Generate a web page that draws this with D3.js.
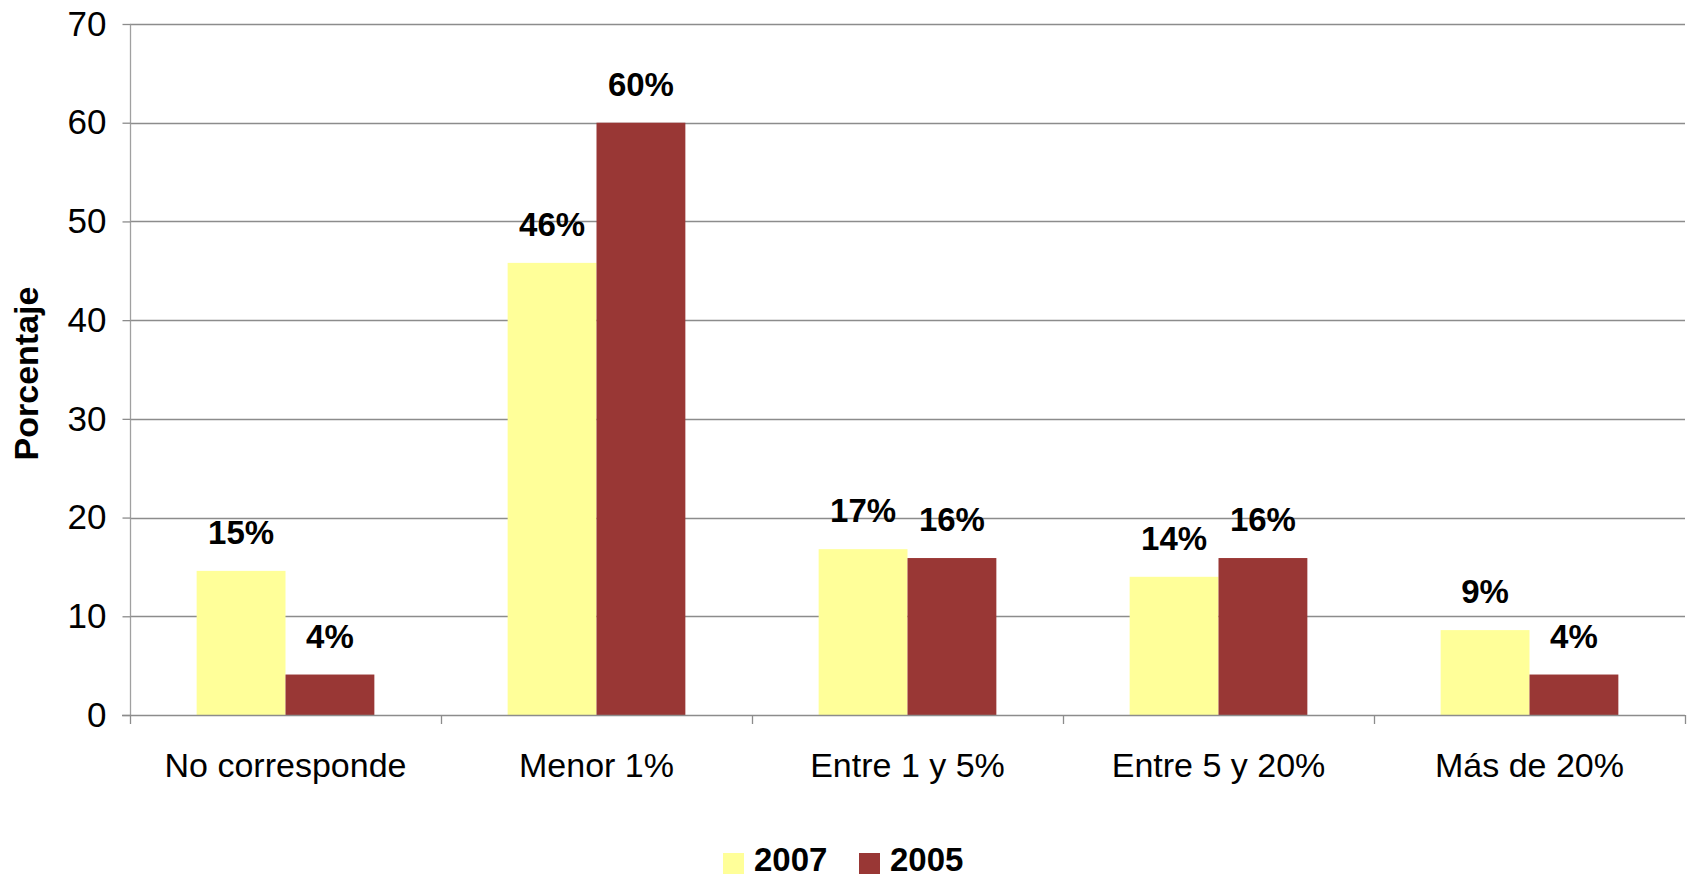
<!DOCTYPE html>
<html><head><meta charset="utf-8">
<script src="https://cdn.jsdelivr.net/npm/d3@7"></script>
<style>html,body{margin:0;padding:0;background:#fff;overflow:hidden}</style>
</head><body><svg id="c" width="1688" height="878"></svg>
<script>
const categories = ["No corresponde","Menor 1%","Entre 1 y 5%","Entre 5 y 20%","Más de 20%"];
const seriesNames = ["2007","2005"];
const values2007 = [14.6, 45.8, 16.8, 14.0, 8.6];
const values2005 = [4.1, 60.0, 15.9, 15.9, 4.1];
const yTicks = [0,10,20,30,40,50,60,70];
const colors = ["#FFFF99","#993735"];

const svg = d3.select("#c");
const font = "'Liberation Sans', Arial, sans-serif";
const L = 130, R = 1685, T = 24, B = 715;

const y = d3.scaleLinear().domain([0,70]).range([B,T]);
const x = d3.scaleBand().domain(categories).range([L,R]).padding(0);
const bw = x.bandwidth()/3.5;
const xs = d3.scaleBand().domain(seriesNames).range([0, 2*bw]);

// gridlines
svg.append("g").selectAll("line").data(yTicks.filter(d=>d>0)).join("line")
  .attr("x1",L).attr("x2",R).attr("y1",d=>Math.round(y(d))+0.5).attr("y2",d=>Math.round(y(d))+0.5)
  .attr("stroke","#8c8c8c").attr("stroke-width",1.3);

// y axis
const yAxis = d3.axisLeft(y).tickValues(yTicks).tickSize(8).tickPadding(16);
const gy = svg.append("g").attr("transform",`translate(${L+0.5},0)`).call(yAxis);
gy.select(".domain").attr("stroke","#a0a0a0").attr("stroke-width",1.3).attr("d",`M0,${T}V${B}`);
gy.selectAll(".tick line").attr("stroke","#8c8c8c").attr("stroke-width",1.3);
gy.selectAll(".tick text").attr("font-family",font).attr("font-size",35).attr("fill","#000");

// bars
const data = categories.map((c,i)=>({cat:c, vals:[values2007[i], values2005[i]]}));
const groups = svg.append("g").selectAll("g").data(data).join("g")
  .attr("transform",d=>`translate(${x(d.cat)+x.bandwidth()/2-bw},0)`);
groups.selectAll("rect").data(d=>d.vals.map((v,j)=>({v,s:seriesNames[j],j}))).join("rect")
  .attr("x",d=>xs(d.s)).attr("width",xs.bandwidth())
  .attr("y",d=>y(d.v)).attr("height",d=>B-y(d.v)).attr("fill",d=>colors[d.j]);
groups.selectAll("text").data(d=>d.vals.map((v,j)=>({v,s:seriesNames[j],j}))).join("text")
  .attr("x",d=>xs(d.s)+xs.bandwidth()/2).attr("y",d=>y(d.v)-27)
  .attr("text-anchor","middle").attr("font-family",font).attr("font-weight","bold")
  .attr("font-size",33).attr("fill","#000").text(d=>Math.round(d.v)+"%");

// x axis
const xAxis = d3.axisBottom(x).tickSize(0).tickPadding(37);
const gx = svg.append("g").attr("transform",`translate(0,${B+0.5})`).call(xAxis);
gx.select(".domain").attr("stroke","#8c8c8c").attr("stroke-width",1.3).attr("d",`M${L-8},0H${R}`);
gx.selectAll(".tick text").attr("font-family",font).attr("font-size",34).attr("fill","#000");
const bounds = categories.map(c=>x(c)).concat([x(categories[categories.length-1])+x.bandwidth()]);
svg.append("g").selectAll("line").data(bounds).join("line")
  .attr("x1",d=>Math.round(d)+0.5).attr("x2",d=>Math.round(d)+0.5).attr("y1",B).attr("y2",B+9)
  .attr("stroke","#8c8c8c").attr("stroke-width",1.3);

// y title
svg.append("text").attr("transform",`translate(38,${(T+B)/2+4}) rotate(-90)`)
  .attr("text-anchor","middle").attr("font-family",font).attr("font-weight","bold")
  .attr("font-size",34).text("Porcentaje");

// legend
const legX = [723, 859];
const leg = svg.append("g").selectAll("g").data(seriesNames).join("g")
  .attr("transform",(d,i)=>`translate(${legX[i]},0)`);
leg.append("rect").attr("x",0).attr("y",853).attr("width",21).attr("height",21).attr("fill",(d,i)=>colors[i]);
leg.append("text").attr("x",31).attr("y",871).attr("font-family",font).attr("font-weight","bold")
  .attr("font-size",33).text(d=>d);
</script></body></html>
